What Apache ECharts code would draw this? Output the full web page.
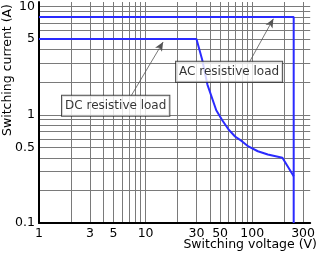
<!DOCTYPE html>
<html lang="en">
<head>
  <meta charset="UTF-8">
  <title>Switching capacity</title>
  <script src="https://cdn.jsdelivr.net/npm/echarts@6/dist/echarts.min.js"></script>
</head>
<style>
  * {
    padding: 0px;
    margin: 0px;
  }
</style>
<body>
<div id="main" style="width:318px;height:254px;"></div>
</body>
</html>
<script>
  // gridlines + labels
  var xGrid = [1, 2, 3, 4, 5, 6, 7, 8, 9, 10, 20, 30, 40, 50, 60, 70, 80, 90, 100, 200, 300];
  var yGrid = [0.1, 0.2, 0.3, 0.4, 0.5, 0.6, 0.7, 0.8, 0.9, 1, 2, 3, 4, 5, 6, 7, 8, 9, 10];
  var xLabels = [1, 3, 5, 10, 30, 50, 100, 300];
  var yLabels = [0.1, 0.5, 1, 5, 10];

  // AC resistive load
  var acVolt = [1, 245, 245];
  var acAmp = [8, 8, 0.1];
  // DC resistive load
  var dcVolt = [1, 30, 34, 38, 46, 52, 60, 69, 80, 92, 113, 140, 192, 245];
  var dcAmp = [5, 5, 3.2, 1.9, 1.1, 0.9, 0.73, 0.63, 0.57, 0.51, 0.46, 0.43, 0.40, 0.27];

  // callouts
  var noteNames = ['DC resistive load', 'AC resistive load'];
  var noteVolt = [5.24, 60.7];
  var noteAmp = [1.21, 2.5];
  var arrowFrom = [[7.3, 1.49], [93, 3.0]];
  var arrowTo = [[14.6, 4.7], [158, 7.7]];

  var blue = '#2b2bff';
  var font = 'DejaVu Sans';

  function pairs(xs, ys) {
    return xs.map(function (x, i) { return [x, ys[i]]; });
  }

  var chart = echarts.init(document.getElementById('main'));
  chart.setOption({
    backgroundColor: '#fff',
    animation: false,
    grid: {left: 39, right: 1, top: 2, bottom: 31},
    xAxis: {
      type: 'log',
      logBase: 10,
      min: 1,
      max: 350,
      axisLine: {lineStyle: {color: '#000', width: 2}},
      axisTick: {show: false, customValues: xGrid},
      axisLabel: {customValues: xLabels, color: '#000', fontSize: 12.5, fontFamily: font, margin: 4},
      splitLine: {show: true, lineStyle: {color: '#7a7a7a', width: 1}}
    },
    yAxis: {
      type: 'log',
      logBase: 10,
      min: 0.1,
      max: 11,
      axisLine: {lineStyle: {color: '#000', width: 2}},
      axisTick: {show: false, customValues: yGrid},
      axisLabel: {customValues: yLabels, color: '#000', fontSize: 12.5, fontFamily: font, margin: 4,
        formatter: function (v) { return String(v); }},
      splitLine: {show: true, lineStyle: {color: '#7a7a7a', width: 1}}
    },
    graphic: [
      {type: 'text', x: 317, y: 245, style: {text: 'Switching voltage (V)', font: '12.5px ' + font,
        fill: '#000', align: 'right', verticalAlign: 'middle'}},
      {type: 'text', x: 8, y: 70, rotation: Math.PI / 2, style: {text: 'Switching current (A)',
        font: '12.5px ' + font, fill: '#000', align: 'center', verticalAlign: 'middle'}}
    ],
    series: [
      {
        name: 'AC',
        type: 'line',
        data: pairs(acVolt, acAmp),
        symbol: 'none',
        lineStyle: {color: blue, width: 2},
        z: 3
      },
      {
        name: 'DC',
        type: 'line',
        data: pairs(dcVolt, dcAmp),
        symbol: 'none',
        lineStyle: {color: blue, width: 2},
        z: 3
      },
      {
        name: 'notes',
        type: 'scatter',
        symbolSize: 0,
        z: 5,
        data: noteNames.map(function (n, i) { return {name: n, value: [noteVolt[i], noteAmp[i]]}; }),
        label: {
          show: true,
          position: 'inside',
          formatter: '{b}',
          fontFamily: font,
          fontSize: 12,
          color: '#000',
          lineHeight: 14,
          backgroundColor: '#fff',
          borderColor: '#222',
          borderWidth: 1,
          padding: [3, 3, 3, 3]
        },
        markLine: {
          silent: true,
          symbol: ['none', 'arrow'],
          symbolSize: [6, 9],
          label: {show: false},
          lineStyle: {color: '#555', width: 0.8, type: 'solid'},
          data: arrowFrom.map(function (f, i) { return [{coord: f}, {coord: arrowTo[i]}]; })
        }
      }
    ]
  });
</script>
